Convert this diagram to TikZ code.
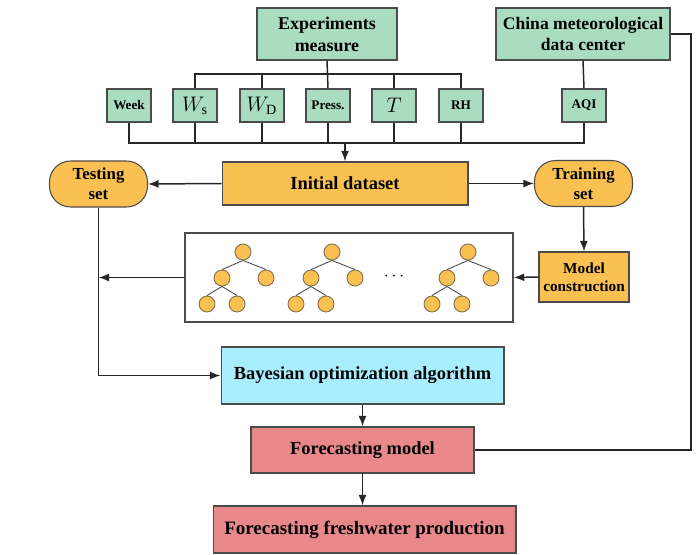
\documentclass[tikz,border=0pt]{standalone}
\usepackage{fontspec}
\setmainfont{Liberation Serif}
\usetikzlibrary{positioning}
\usetikzlibrary{arrows.meta}
\definecolor{mint}{RGB}{170,220,192}
\definecolor{amber}{RGB}{250,192,82}
\definecolor{skyblue}{RGB}{168,238,254}
\definecolor{rose}{RGB}{232,136,139}
\definecolor{edge}{RGB}{75,75,75}

\begin{document}
\begin{tikzpicture}[x=0.02cm,y=-0.02cm,
 box/.style={draw=edge,line width=0.6pt,align=center,inner sep=0pt},
 srcbox/.style={box,fill=mint,font=\bfseries\fontsize{10.2}{12.5}\selectfont},
 varbox/.style={box,fill=mint,minimum width=0.88cm,minimum height=0.66cm,font=\bfseries\fontsize{7.5}{9}\selectfont},
 setbox/.style={box,fill=amber,rounded corners=0.42cm,minimum width=1.96cm,minimum height=0.92cm,font=\bfseries\fontsize{9.6}{11.5}\selectfont},
 procbox/.style={box,fill=amber,font=\bfseries\fontsize{10.5}{12}\selectfont},
 leaf/.style={circle,draw=edge!70!amber,fill=amber,minimum size=0.32cm,inner sep=0pt,line width=0.5pt},
 twig/.style={draw=edge,line width=0.5pt},
 wire/.style={draw=black!85,line width=0.85pt},
 arr/.style={wire,-{Latex[length=6pt,width=4.5pt]}}
]
\useasboundingbox (0,0) rectangle (699,554);

% sources and variables
\node[srcbox,minimum width=2.8cm,minimum height=1.04cm] (exp) at (327,34) {Experiments\\measure};
\node[srcbox,minimum width=3.48cm,minimum height=1.04cm,font=\bfseries\fontsize{10}{12.5}\selectfont] (cmdc) at (583,34) {China meteorological\\data center};
\node[varbox] (week) at (129,105.5) {Week};
\node[varbox] (ws) at (195,105.5) {\fontsize{11.5}{12}\selectfont$W_{\mathrm{s}}$};
\node[varbox] (wd) at (262,105.5) {\fontsize{11.5}{12}\selectfont$W_{\mathrm{D}}$};
\node[varbox] (press) at (328,105.5) {Press.};
\node[varbox] (temp) at (394,105.5) {\fontsize{11.5}{12}\selectfont$T$};
\node[varbox] (rh) at (461,105.5) {RH};
\node[varbox] (aqi) at (584,105.5) {AQI};

\coordinate (tb) at (461,74);
\coordinate (bb) at (584,143);
\draw[wire] (exp.south) -- (press.north);
\draw[wire] (ws.north) |- (tb) -- (rh.north);
\draw[wire] (wd.north) -- (wd.north |- tb);
\draw[wire] (temp.north) -- (temp.north |- tb);
\draw[wire] (cmdc.south) -- (aqi.north);
\draw[wire] (week.south) |- (bb) -- (aqi.south);
\foreach \v in {ws,wd,press,temp,rh}
 \draw[wire] (\v.south) -- (\v.south |- bb);

% datasets
\node[procbox,minimum width=4.92cm,minimum height=0.86cm] (init) at (345,183.5) {Initial dataset};
\node[setbox] (test) at (98.5,184) {Testing\\set};
\node[setbox] (train) at (583.5,183.5) {Training\\set};
\draw[arr] (init.north |- bb) -- (init.north);
\draw[arr] (init.west) -- (test.east);
\draw[arr] (init.east) -- (train.west);

% model construction and trees
\node[procbox,minimum width=1.8cm,minimum height=1.0cm,font=\bfseries\fontsize{8.7}{10.3}\selectfont] (build) at (584,277) {Model\\construction};
\node[draw=edge,line width=0.8pt,fill=white,minimum width=6.56cm,minimum height=1.78cm] (forest) at (349,277.5) {};
\foreach \t/\rx in {a/243,b/332,c/468}{
 \node[leaf] (\t0) at (\rx,252) {};
 \node[leaf] (\t1) at (\rx-21,278) {};
 \node[leaf] (\t2) at (\rx+23,278) {};
 \node[leaf] (\t3) at (\rx-36,304) {};
 \node[leaf] (\t4) at (\rx-6,304) {};
 \draw[twig] (\t0.south) -- (\t1.north);
 \draw[twig] (\t0.south) -- (\t2.north);
 \draw[twig] (\t1.south) -- (\t3.north);
 \draw[twig] (\t1.south) -- (\t4.north);
}
\node (dots) at (394,277) {$\cdots$};
\draw[arr] (train.south) -- (build.north);
\draw[arr] (build.west) -- (forest.east);
\draw[arr] (forest.west) -- (test.south |- forest.west);

% optimization and forecasting
\node[box,fill=skyblue,minimum width=5.66cm,minimum height=1.14cm,font=\bfseries\fontsize{10.5}{12}\selectfont] (bayes) at (362.5,375.5) {Bayesian optimization algorithm};
\node[box,fill=rose,minimum width=4.46cm,minimum height=0.92cm,font=\bfseries\fontsize{10.5}{12}\selectfont] (fmodel) at (362.5,450) {Forecasting model};
\node[box,fill=rose,minimum width=6.06cm,minimum height=0.94cm,font=\bfseries\fontsize{10.8}{12}\selectfont] (fresh) at (364.5,529.5) {Forecasting freshwater production};
\coordinate (rr) at (691,34);
\draw[arr] (test.south) |- (bayes.west);
\draw[arr] (bayes.south) -- (fmodel.north);
\draw[arr] (fmodel.south) -- (fmodel.south |- fresh.north);
\draw[wire] (fmodel.east) -| (rr) -- (cmdc.east);
\end{tikzpicture}
\end{document}
